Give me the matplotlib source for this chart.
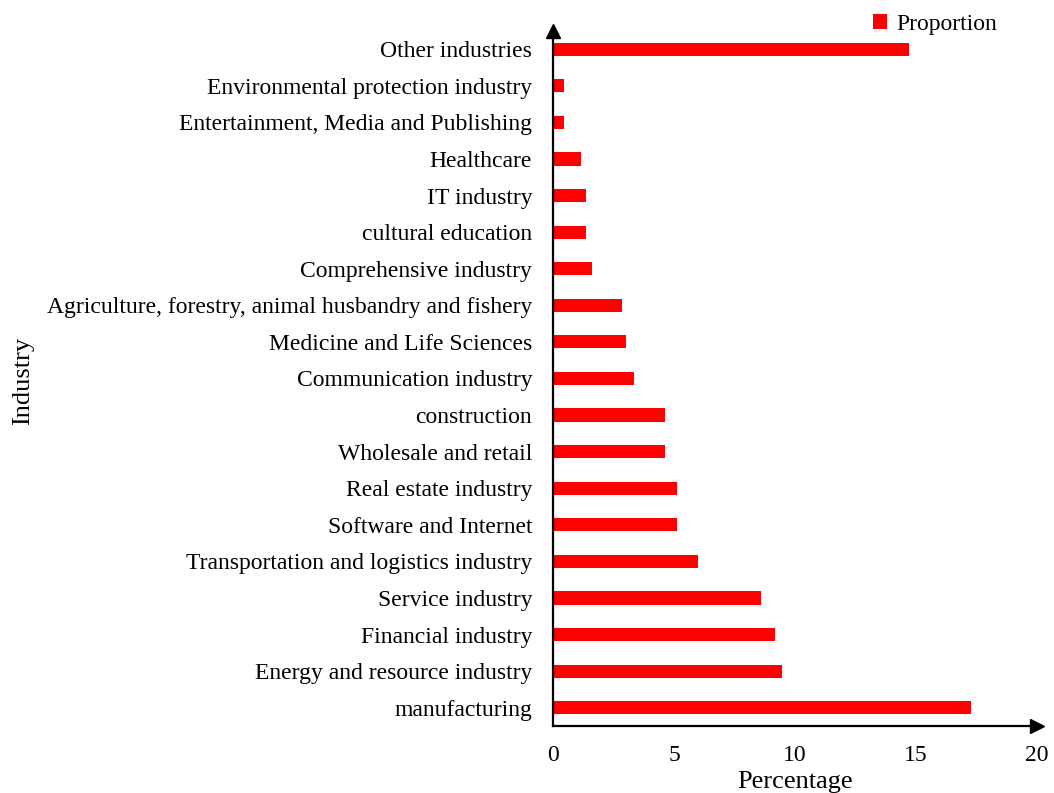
import numpy as np
import matplotlib.pyplot as plt

plt.rcParams['font.family'] = ['Liberation Serif', 'DejaVu Serif']

industries = ['manufacturing', 'Energy and resource industry', 'Financial industry',
              'Service industry', 'Transportation and logistics industry',
              'Software and Internet', 'Real estate industry', 'Wholesale and retail',
              'construction', 'Communication industry', 'Medicine and Life Sciences',
              'Agriculture, forestry, animal husbandry and fishery',
              'Comprehensive industry', 'cultural education', 'IT industry',
              'Healthcare', 'Entertainment, Media and Publishing',
              'Environmental protection industry', 'Other industries']
proportion = [17.27, 9.48, 9.15, 8.58, 6.0, 5.11, 5.11, 4.61, 4.61, 3.35, 3.02,
              2.86, 1.62, 1.38, 1.38, 1.14, 0.45, 0.45, 14.7]
xticks = [0, 5, 10, 15, 20]

fig = plt.figure(figsize=(10.54, 7.93), dpi=100)
ax = fig.add_axes([0.5247, 0.0845, 0.4593, 0.8765])

y = np.arange(len(industries))
ax.barh(y, proportion, height=0.36, color='#ff0000', label='Proportion')

ax.set_xlim(0, 20)
ax.set_ylim(-0.5, 18.5)
ax.set_yticks(y)
ax.set_yticklabels(industries, fontsize=17)
ax.set_xticks(xticks)
ax.set_xticklabels([str(t) for t in xticks], fontsize=17)
ax.tick_params(axis='y', length=0, pad=15)
ax.tick_params(axis='x', length=0, pad=14)

for s in ['top', 'right']:
    ax.spines[s].set_visible(False)
for s in ['left', 'bottom']:
    ax.spines[s].set_linewidth(1.6)

# arrow heads on both axes
ax.plot(1, 0, '>', color='black', markersize=10, transform=ax.transAxes, clip_on=False)
ax.plot(0, 1, '^', color='black', markersize=10, transform=ax.transAxes, clip_on=False)

ax.set_xlabel('Percentage', fontsize=19, labelpad=3)
fig.text(0.022, 0.52, 'Industry', rotation=90, fontsize=19, ha='center', va='center')

ax.legend(loc='upper right', bbox_to_anchor=(0.962, 1.055), frameon=False, fontsize=17,
          handlelength=0.6, handleheight=0.6, handletextpad=0.4)

fig.savefig('out.png', dpi=100)
